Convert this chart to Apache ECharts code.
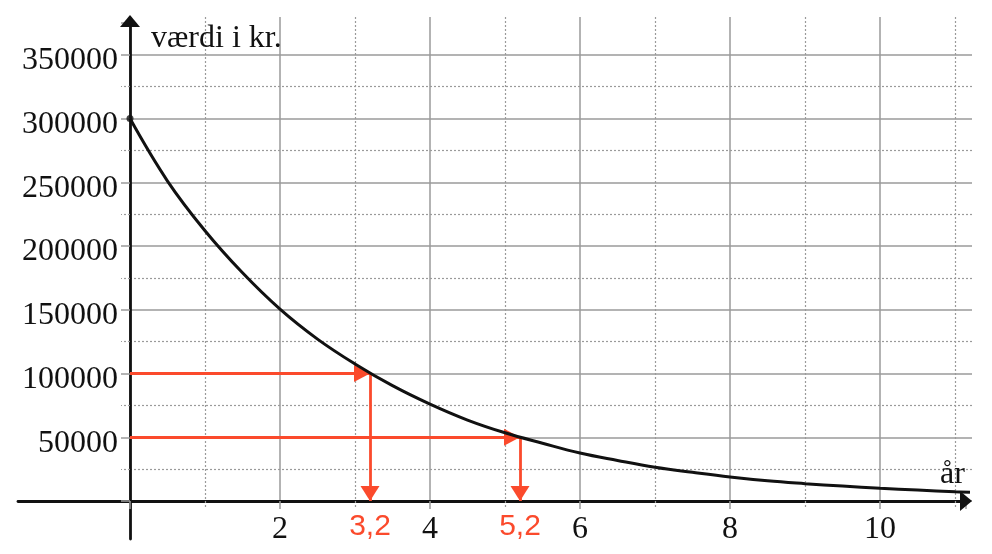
<!DOCTYPE html>
<html>
<head>
<meta charset="utf-8">
<script src="https://cdn.jsdelivr.net/npm/echarts@6/dist/echarts.min.js"></script>
<style>
  html, body { margin: 0; padding: 0; background: #ffffff; }
  #chart { width: 992px; height: 554px; }
</style>
</head>
<body>
<div id="chart"></div>
<script>
// ---- data ----
const years  = [0, 0.5, 1, 1.5, 2, 2.5, 3, 3.5, 4, 4.5, 5, 5.5, 6, 6.5, 7, 7.5, 8, 8.5, 9, 9.5, 10, 10.5, 11, 11.2];
const values = [300000, 251000, 212000, 179000, 150500, 127000, 107500, 90500, 76000, 63500, 53500, 45300,
                37600, 31800, 26500, 22500, 18800, 15800, 13600, 11700, 10000, 8600, 7300, 6900];
const readX = [3.2, 5.2];
const readY = [100000, 50000];     // værdi levels
const yTitle = 'værdi i kr.';
const xTitle = 'år';

// ---- styles ----
const RED = '#fb4a2c';
const INK = '#111111';
const GRID = '#9a9a9a';
const SERIF = 'Liberation Serif';
const SANS = 'Liberation Sans';

const curve = years.map((x, i) => [x, values[i]]);

const headH = { symbol: 'triangle', symbolSize: [17, 16], symbolOffset: [0, 8] };
const headV = { symbol: 'triangle', symbolSize: [19, 15], symbolOffset: [0, 7.5] };
const arrowLines = [];
readX.forEach((x, i) => {
  arrowLines.push([{ coord: [0, readY[i]], symbol: 'none' },
                   Object.assign({ coord: [x, readY[i]] }, headH)]);
  arrowLines.push([
    { coord: [x, readY[i]], symbol: 'none',
      label: { show: true, position: 'end', distance: 11,
               formatter: String(x).replace('.', ','),
               color: RED, fontFamily: SANS, fontSize: 30 } },
    Object.assign({ coord: [x, 0] }, headV)
  ]);
});

const chart = echarts.init(document.getElementById('chart'), null, { renderer: 'canvas' });
chart.setOption({
  animation: false,
  backgroundColor: '#ffffff',
  title: [
    { text: yTitle, left: 151, top: 23, padding: 0,
      textStyle: { fontFamily: SERIF, fontSize: 32, fontWeight: 'normal', color: INK } },
    { text: xTitle, left: 940, top: 459, padding: 0,
      textStyle: { fontFamily: SERIF, fontSize: 32, fontWeight: 'normal', color: INK } }
  ],
  grid: [
    { left: 130, right: 20, top: 23, bottom: 53 },   // horizontal grid lines + curve
    { left: 130, right: 26, top: 17, bottom: 53 },   // vertical grid lines + x labels
    { left: 18,  right: 26, top: 21, bottom: 15 }    // arrow axes
  ],
  xAxis: [
    { gridIndex: 0, type: 'value', min: 0, max: 842 / 75, show: false },
    { gridIndex: 1, type: 'value', min: 0, max: 836 / 75, interval: 2,
      axisLine: { show: false },
      axisTick: { show: true, length: 8, lineStyle: { color: GRID, width: 1.5 } },
      minorTick: { show: true, splitNumber: 2, length: 8, lineStyle: { color: GRID, width: 1.2, type: [2, 2] } },
      splitLine: { show: true, showMaxLine: false, lineStyle: { color: GRID, width: 1.5 } },
      minorSplitLine: { show: true, lineStyle: { color: GRID, width: 1.2, type: [2, 2] } },
      axisLabel: { showMaxLabel: false, margin: 13, color: INK, fontFamily: SERIF, fontSize: 32,
                   formatter: v => (v === 0 ? '' : String(v)) } },
    { gridIndex: 2, type: 'value', min: -112 / 75, max: 836 / 75,
      axisLine: { show: true, onZero: true, symbol: ['none', 'triangle'], symbolSize: [20, 12],
                  lineStyle: { color: INK, width: 2.8 } },
      axisTick: { show: false }, axisLabel: { show: false }, splitLine: { show: false } }
  ],
  yAxis: [
    { gridIndex: 0, type: 'value', min: 0, max: 375000, interval: 50000,
      axisLine: { show: false },
      axisTick: { show: true, length: 9, lineStyle: { color: GRID, width: 1.5 } },
      minorTick: { show: true, splitNumber: 2, length: 9, lineStyle: { color: GRID, width: 1.2, type: [2, 2] } },
      splitLine: { show: true, showMaxLine: false, lineStyle: { color: GRID, width: 1.5 } },
      minorSplitLine: { show: true, lineStyle: { color: GRID, width: 1.2, type: [2, 2] } },
      axisLabel: { showMaxLabel: false, margin: 12, color: INK, fontFamily: SERIF, fontSize: 32,
                   verticalAlign: 'top', lineHeight: 12,
                   formatter: v => (v === 0 ? '' : String(v)) } },
    { gridIndex: 1, type: 'value', min: 0, max: 1, show: false },
    { gridIndex: 2, type: 'value', min: -38 * 350000 / 446, max: 480 * 350000 / 446,
      axisLine: { show: true, onZero: true, symbol: ['none', 'triangle'], symbolSize: [20, 12],
                  lineStyle: { color: INK, width: 2.8 } },
      axisTick: { show: false }, axisLabel: { show: false }, splitLine: { show: false } }
  ],
  series: [
    { type: 'line', xAxisIndex: 0, yAxisIndex: 0, data: curve, smooth: 0.4,
      symbol: 'none', lineStyle: { color: INK, width: 3 }, z: 5,
      markLine: {
        silent: true, symbol: ['none', 'triangle'], symbolSize: 15,
        lineStyle: { color: RED, width: 2.8, type: 'solid' },
        label: { show: false },
        data: arrowLines
      } },
    { type: 'scatter', xAxisIndex: 0, yAxisIndex: 0, data: [curve[0]], symbol: 'circle', symbolSize: 7,
      itemStyle: { color: INK }, z: 6 }
  ]
});
</script>
</body>
</html>
